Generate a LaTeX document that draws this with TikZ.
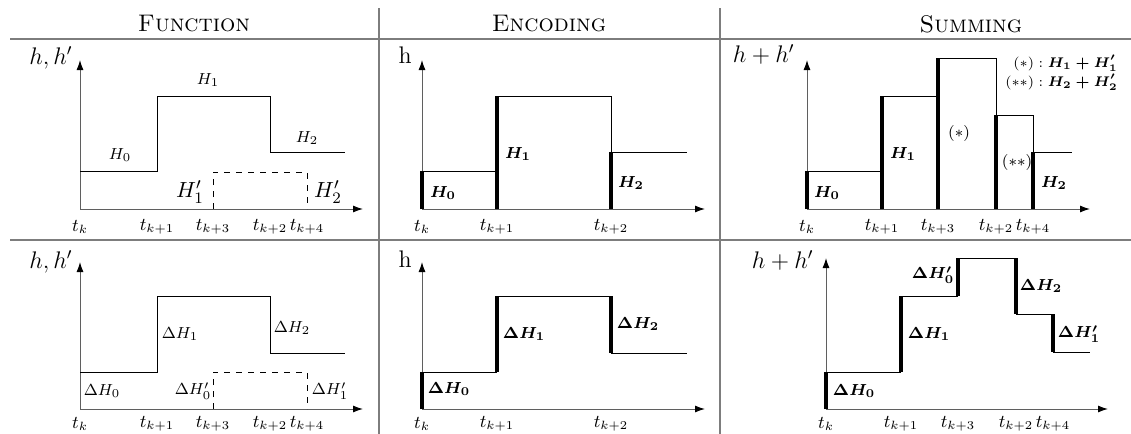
\documentclass[tikz,border=0pt]{standalone}
\usepackage{amsmath,amssymb}
\usepackage{xcolor}
\usepackage{tikz}
\usetikzlibrary{arrows.meta, positioning, calc}
\definecolor{rulegray}{RGB}{125,125,125}
\definecolor{axisgray}{RGB}{95,95,95}

\begin{document}
\begin{tikzpicture}[x=0.5pt, y=-0.5pt,
  rule/.style={rulegray, line width=0.8pt},
  axis/.style={axisgray, line width=0.5pt, -{Latex[black,length=5pt,width=3.5pt]}},
  curve/.style={black, line width=0.5pt},
  jump/.style={black, line width=2pt},
  hdr/.style={font=\fontsize{12}{14}\selectfont},
  ylab/.style={font=\fontsize{12}{14}\selectfont, anchor=base east, inner sep=0pt},
  tick/.style={font=\fontsize{9}{11}\selectfont, inner sep=1pt},
  lab/.style={font=\fontsize{8}{10}\selectfont},
  blab/.style={font=\fontsize{8.5}{10}\selectfont},
  leg/.style={font=\fontsize{7.5}{9}\selectfont, inner sep=0pt, anchor=base east},
  big/.style={font=\fontsize{11}{13}\selectfont}]
\useasboundingbox (0,0) rectangle (1131,434);
% Table
\draw[rule] (10,39) -- (1131,39);
\draw[rule] (10,240) -- (1131,240);
\draw[rule] (379,8) -- (379,434);
\draw[rule] (720,8) -- (720,434);
\node[hdr] (hfun) at (194,24) {\textsc{Function}};
\node[hdr] (henc) at (549,24) {\textsc{Encoding}};
\node[hdr] (hsum) at (971,24) {\textsc{Summing}};
% Function, top
\draw[axis] (80,209) -- (80,60);
\draw[axis] (80,209) -- (363,209);
\draw[curve] (80,171) -- (157,171) -- (157,96) -- (270,96) -- (270,152) -- (345,152);
\draw[curve, dashed] (213,209) -- (213,172) -- (307,172) -- (307,209);
\node[ylab] (yfa) at (73,64) {$h, h'$};
\node[lab] (fa0) at (120,155) {$H_0$};
\node[lab] (fa1) at (208,80) {$H_1$};
\node[lab] (fa2) at (307,138) {$H_2$};
\node[big] (fa1p) at (190,192) {$H'_1$};
\node[big] (fa2p) at (328,192) {$H'_2$};
\foreach \x/\s [count=\i] in {80/k, 157/k+1, 213/k+3, 270/k+2, 307/k+4}
  \node[tick] (tfa\i) at (\x,227) {$t_{\s}$};
% Encoding, top
\draw[axis] (422,209) -- (422,60);
\draw[axis] (422,209) -- (705,209);
\draw[curve] (422,171) -- (497,171);
\draw[curve] (497,96) -- (611,96) -- (611,152) -- (687,152);
\draw[jump] (422,209) -- (422,171);
\draw[jump] (497,209) -- (497,96);
\draw[jump] (611,209) -- (611,152);
\node[ylab] (yea) at (412,63) {h};
\node[blab] (ea0) at (443,193) {$\boldsymbol{H_0}$};
\node[blab] (ea1) at (518,154) {$\boldsymbol{H_1}$};
\node[blab] (ea2) at (631,183) {$\boldsymbol{H_2}$};
\foreach \x/\s [count=\i] in {422/k, 497/k+1, 611/k+2}
  \node[tick] (tea\i) at (\x,227) {$t_{\s}$};
% Summing, top
\draw[axis] (807,209) -- (807,60);
\draw[axis] (807,209) -- (1090,209);
\draw[curve] (807,171) -- (882,171);
\draw[curve] (882,96) -- (938,96);
\draw[curve] (938,58) -- (996,58) -- (996,115) -- (1033,115) -- (1033,152) -- (1072,152);
\draw[jump] (807,209) -- (807,171);
\draw[jump] (882,209) -- (882,96);
\draw[jump] (938,209) -- (938,58);
\draw[jump] (996,209) -- (996,115);
\draw[jump] (1033,209) -- (1033,152);
\node[ylab] (ysa) at (795,62) {$h + h'$};
\node[blab] (sa0) at (827,193) {$\boldsymbol{H_0}$};
\node[blab] (sa1) at (903,154) {$\boldsymbol{H_1}$};
\node[lab] (sa3) at (959,133) {$(*)$};
\node[lab] (sa4) at (1017,162) {$(**)$};
\node[blab] (sa2) at (1054,183) {$\boldsymbol{H_2}$};
\node[leg] (leg1) at (1118,67) {$(*) : \boldsymbol{H_1 + H'_1}$};
\node[leg] (leg2) at (1118,86) {$(**) : \boldsymbol{H_2 + H'_2}$};
\foreach \x/\s [count=\i] in {807/k, 882/k+1, 938/k+3, 996/k+2, 1033/k+4}
  \node[tick] (tsa\i) at (\x,227) {$t_{\s}$};
% Function, bottom
\draw[axis] (80,409) -- (80,262);
\draw[axis] (80,409) -- (363,409);
\draw[curve] (80,372) -- (157,372) -- (157,296) -- (270,296) -- (270,353) -- (345,353);
\draw[curve, dashed] (213,409) -- (213,372) -- (307,372) -- (307,409);
\node[ylab] (yfb) at (73,268) {$h, h'$};
\node[lab] (fb0) at (102,391) {$\Delta H_0$};
\node[lab] (fb1) at (180,334) {$\Delta H_1$};
\node[lab] (fb2) at (292,328) {$\Delta H_2$};
\node[lab] (fb0p) at (193,391) {$\Delta H'_0$};
\node[lab] (fb1p) at (330,391) {$\Delta H'_1$};
\foreach \x/\s [count=\i] in {80/k, 157/k+1, 213/k+3, 270/k+2, 307/k+4}
  \node[tick] (tfb\i) at (\x,424) {$t_{\s}$};
% Encoding, bottom
\draw[axis] (422,409) -- (422,262);
\draw[axis] (422,409) -- (705,409);
\draw[curve] (422,372) -- (497,372);
\draw[curve] (497,296) -- (611,296);
\draw[curve] (611,353) -- (687,353);
\draw[jump] (422,409) -- (422,372);
\draw[jump] (497,372) -- (497,296);
\draw[jump] (611,296) -- (611,353);
\node[ylab] (yeb) at (412,267) {h};
\node[blab] (eb0) at (449,389) {$\boldsymbol{\Delta H_0}$};
\node[blab] (eb1) at (524,334) {$\boldsymbol{\Delta H_1}$};
\node[blab] (eb2) at (638,324) {$\boldsymbol{\Delta H_2}$};
\foreach \x/\s [count=\i] in {422/k, 497/k+1, 611/k+2}
  \node[tick] (teb\i) at (\x,424) {$t_{\s}$};
% Summing, bottom
\draw[axis] (826,409) -- (826,258);
\draw[axis] (826,409) -- (1108,409);
\draw[curve] (826,372) -- (901,372);
\draw[curve] (901,296) -- (958,296);
\draw[curve] (958,258) -- (1016,258);
\draw[curve] (1016,314) -- (1053,314);
\draw[curve] (1053,352) -- (1090,352);
\draw[jump] (826,409) -- (826,372);
\draw[jump] (901,372) -- (901,296);
\draw[jump] (958,296) -- (958,258);
\draw[jump] (1016,258) -- (1016,314);
\draw[jump] (1053,314) -- (1053,352);
\node[ylab] (ysb) at (814,268) {$h + h'$};
\node[blab] (sb0) at (854,391) {$\boldsymbol{\Delta H_0}$};
\node[blab] (sb1) at (929,334) {$\boldsymbol{\Delta H_1}$};
\node[blab] (sb0p) at (933,275) {$\boldsymbol{\Delta H'_0}$};
\node[blab] (sb2) at (1041,286) {$\boldsymbol{\Delta H_2}$};
\node[blab] (sb1p) at (1079,334) {$\boldsymbol{\Delta H'_1}$};
\foreach \x/\s [count=\i] in {826/k, 901/k+1, 958/k+3, 1016/k+2, 1053/k+4}
  \node[tick] (tsb\i) at (\x,424) {$t_{\s}$};
\end{tikzpicture}
\end{document}
